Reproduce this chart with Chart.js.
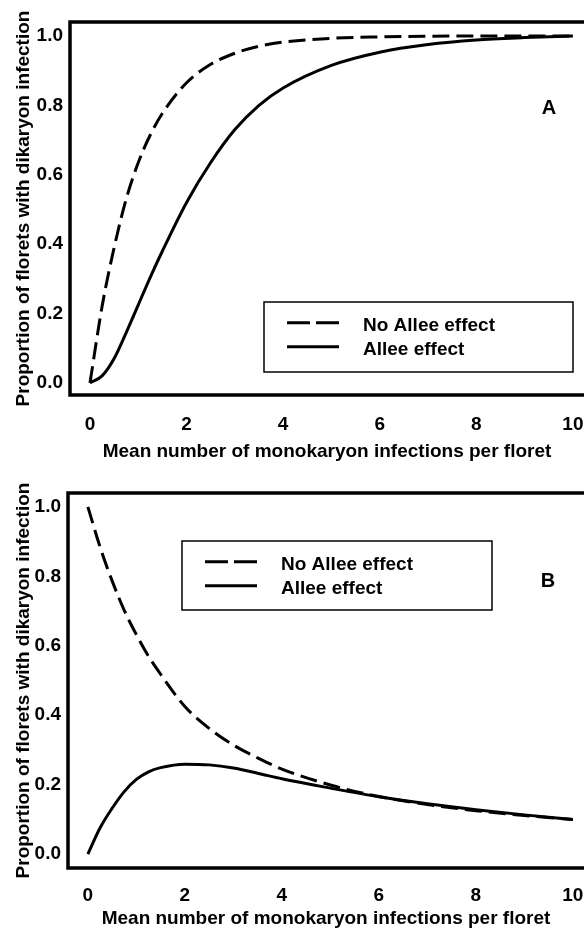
<!DOCTYPE html>
<html>
<head>
<meta charset="utf-8">
<script src="https://cdn.jsdelivr.net/npm/chart.js@4"></script>
<style>
  html, body { margin: 0; padding: 0; background: #fff; overflow: hidden; }
  canvas { display: block; }
</style>
</head>
<body>
<canvas id="panelA" width="584" height="467"></canvas>
<canvas id="panelB" width="584" height="467"></canvas>
<script>
// mean number of monokaryon infections per floret (x)
const meanInfections = [0, 0.25, 0.5, 0.75, 1, 1.25, 1.5, 2, 2.5, 3, 3.5, 4, 5, 6, 7, 8, 9, 10];

// panel A
const noAlleeA = [0, 0.22, 0.39, 0.53, 0.635, 0.715, 0.777, 0.865, 0.918, 0.95, 0.97, 0.982, 0.993, 0.997, 0.999, 1.0, 1.0, 1.0];
const alleeA   = [0, 0.02, 0.07, 0.145, 0.225, 0.305, 0.38, 0.52, 0.635, 0.73, 0.8, 0.85, 0.915, 0.953, 0.975, 0.988, 0.995, 1.0];

// panel B
const noAlleeB = [1.0, 0.885, 0.787, 0.702, 0.632, 0.57, 0.518, 0.425, 0.362, 0.314, 0.277, 0.245, 0.199, 0.166, 0.143, 0.125, 0.111, 0.1];
const alleeB   = [0, 0.075, 0.132, 0.18, 0.215, 0.237, 0.249, 0.259, 0.257, 0.248, 0.233, 0.217, 0.19, 0.165, 0.145, 0.128, 0.113, 0.1];

const seriesLabels = ['No Allee effect', 'Allee effect'];
const xTitle = 'Mean number of monokaryon infections per floret';
const yTitle = 'Proportion of florets with dikaryon infection';

Chart.defaults.font.family = '"Liberation Sans", Arial, sans-serif';
Chart.defaults.color = '#000';

const FONT = { size: 19, weight: 'bold' };

function points(ys) {
  return meanInfections.map((x, i) => ({ x: x, y: ys[i] }));
}

// frame (left, top, bottom), boxed legend and panel letter
const framePlugin = {
  id: 'frame',
  afterDraw(chart, args, o) {
    const ctx = chart.ctx;
    const a = chart.chartArea;
    ctx.save();
    ctx.strokeStyle = '#000';
    ctx.lineWidth = 3.5;
    ctx.beginPath();
    ctx.moveTo(a.right, a.top);
    ctx.lineTo(a.left, a.top);
    ctx.lineTo(a.left, a.bottom);
    ctx.lineTo(a.right, a.bottom);
    ctx.stroke();

    // legend
    const L = o.legend;
    ctx.lineWidth = 1.5;
    ctx.strokeRect(L.x, L.y, L.w, L.h);
    ctx.font = 'bold 19px "Liberation Sans", Arial, sans-serif';
    ctx.textBaseline = 'middle';
    ctx.textAlign = 'left';
    chart.data.datasets.forEach((ds, i) => {
      const ly = L.y + 20.7 + i * 24;
      ctx.lineWidth = 3;
      ctx.setLineDash(i === 0 ? [23, 6] : []);
      ctx.beginPath();
      ctx.moveTo(L.x + 23, ly);
      ctx.lineTo(L.x + 75, ly);
      ctx.stroke();
      ctx.setLineDash([]);
      ctx.fillText(ds.label, L.x + 99, ly + 3);
    });

    // panel letter
    ctx.textAlign = 'center';
    ctx.font = 'bold 20px "Liberation Sans", Arial, sans-serif';
    ctx.fillText(o.letter.text, o.letter.x, o.letter.y);
    ctx.restore();
  }
};

function makePanel(id, noAllee, allee, p) {
  return new Chart(document.getElementById(id), {
    type: 'line',
    data: {
      datasets: [
        {
          label: seriesLabels[0],
          data: points(noAllee),
          borderColor: '#000',
          borderWidth: 3,
          borderDash: [17, 7],
          pointRadius: 0,
          cubicInterpolationMode: 'monotone'
        },
        {
          label: seriesLabels[1],
          data: points(allee),
          borderColor: '#000',
          borderWidth: 3,
          pointRadius: 0,
          cubicInterpolationMode: 'monotone'
        }
      ]
    },
    options: {
      responsive: false,
      animation: false,
      layout: { padding: { top: p.top, right: 0, left: 0, bottom: 0 } },
      plugins: {
        legend: { display: false },
        tooltip: { enabled: false },
        frame: { legend: p.legend, letter: p.letter }
      },
      scales: {
        x: {
          type: 'linear',
          min: p.xMin,
          max: p.xMax,
          border: { display: false },
          grid: { display: false, drawTicks: false },
          ticks: { stepSize: 2, includeBounds: false, padding: p.tickPad, font: FONT, color: '#000' },
          title: { display: true, text: xTitle, font: FONT, color: '#000', padding: { top: 0, bottom: 4 } },
          afterFit(s) {
            s.height = p.xHeight;
            // let the plot run to the page edge like the reference
            s.paddingLeft = 0;
            s.paddingRight = 0;
          }
        },
        y: {
          min: p.yMin,
          max: p.yMax,
          border: { display: false },
          grid: { display: false, drawTicks: false },
          ticks: {
            stepSize: 0.2,
            includeBounds: false,
            padding: 7,
            font: FONT,
            color: '#000',
            callback: v => v.toFixed(1)
          },
          title: { display: true, text: yTitle, font: FONT, color: '#000', padding: { top: 12, bottom: 0 } },
          afterFit(s) {
            s.width = p.yWidth;
            s.paddingTop = 0;
            s.paddingBottom = 0;
          }
        }
      }
    },
    plugins: [framePlugin]
  });
}

makePanel('panelA', noAlleeA, alleeA, {
  top: 22, xHeight: 72, yWidth: 70,
  xMin: -0.414, xMax: 10.23, yMin: -0.035, yMax: 1.04, tickPad: 18,
  legend: { x: 264, y: 302, w: 309, h: 70 },
  letter: { text: 'A', x: 549, y: 108 }
});

makePanel('panelB', noAlleeB, alleeB, {
  top: 26, xHeight: 66, yWidth: 68,
  xMin: -0.41, xMax: 10.23, yMin: -0.04, yMax: 1.04, tickPad: 16,
  legend: { x: 182, y: 74, w: 310, h: 69 },
  letter: { text: 'B', x: 548, y: 114 }
});
</script>
</body>
</html>
